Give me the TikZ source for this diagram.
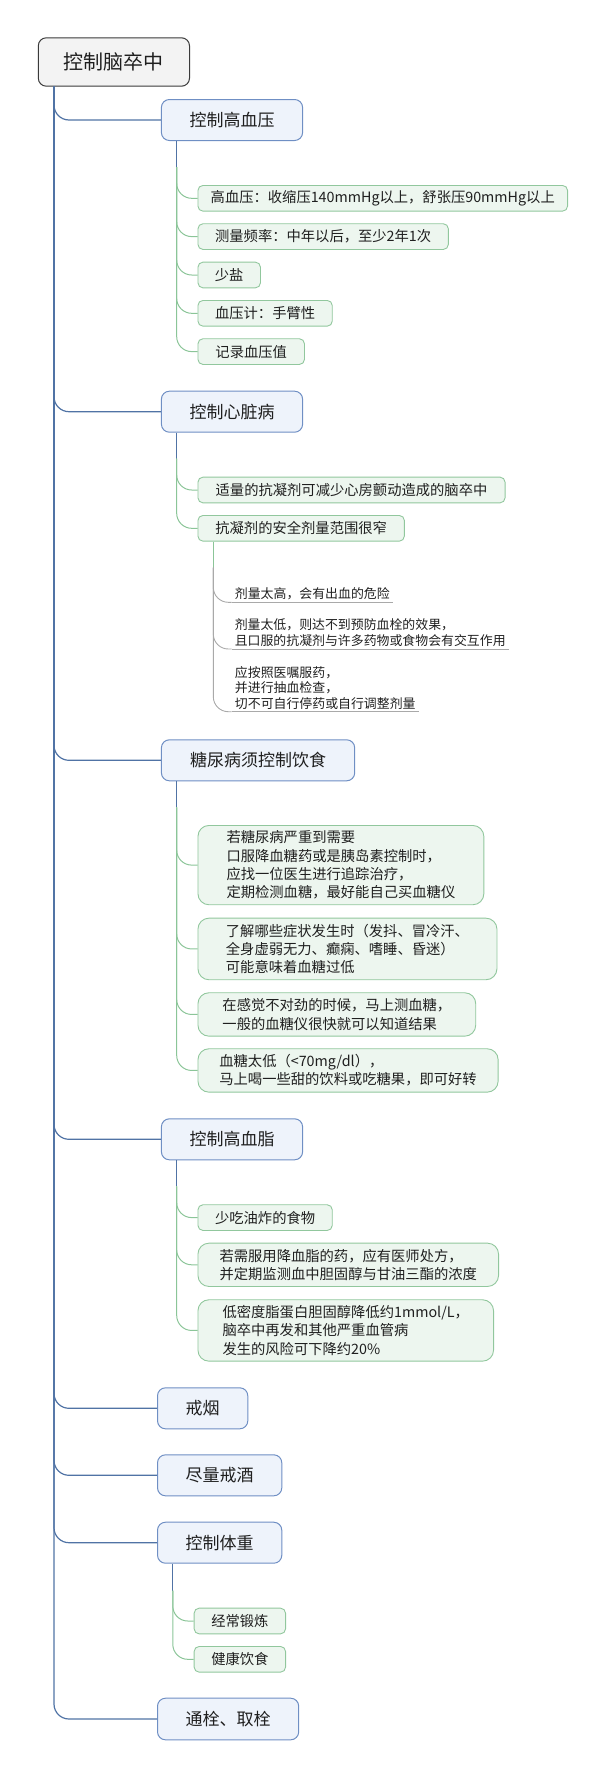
\documentclass[tikz,border=0pt]{standalone}
\usepackage{fontspec}
\setmainfont{Noto Sans CJK SC}
\definecolor{cMain}{HTML}{5073A5}
\definecolor{cBBorder}{HTML}{6F8FC4}
\definecolor{cBFill}{HTML}{EEF3FB}
\definecolor{cGBorder}{HTML}{91C79D}
\definecolor{cGFill}{HTML}{EDF6EF}
\definecolor{cGLine}{HTML}{8BC598}
\definecolor{cGray}{HTML}{A9A9A9}
\definecolor{cRootFill}{HTML}{F3F3F3}
\definecolor{cRootLine}{HTML}{3A3A3A}
\definecolor{cTxt}{HTML}{1F1F1F}
\begin{document}
\begin{tikzpicture}[x=1pt,y=-1pt,
  rootbox/.style={draw=cRootLine, fill=cRootFill, rounded corners=8pt, line width=1pt,
    minimum width=151.2pt, minimum height=48.4pt, inner sep=0pt, anchor=north west,
    font=\fontsize{20}{24}\selectfont, text=cTxt},
  branchbox/.style={draw=cBBorder, fill=cBFill, rounded corners=8pt, line width=1pt,
    minimum height=41pt, inner sep=0pt, anchor=north west,
    font=\fontsize{17}{20}\selectfont, text=cTxt},
  childbox/.style={draw=cGBorder, fill=cGFill, rounded corners=5pt, line width=0.9pt,
    minimum height=25.7pt, inner sep=0pt, anchor=north west, align=left,
    font=\fontsize{14.3}{18.3}\selectfont, text=cTxt},
  tallbox/.style={childbox, rounded corners=11pt},
  leafline/.style={inner xsep=3pt, inner ysep=2pt, anchor=south west, align=left,
    font=\fontsize{12.9}{15.7}\selectfont, text=cTxt},
  mainconn/.style={draw=cMain, line width=1.2pt, rounded corners=15pt},
  stubconn/.style={draw=cMain, line width=1pt},
  greenconn/.style={draw=cGLine, line width=1pt, rounded corners=15pt},
  graystub/.style={draw=cGLine, line width=0.9pt},
  grayconn/.style={draw=cGray, line width=0.9pt, rounded corners=15pt},
  underl/.style={draw=cGray, line width=0.9pt}
]
\useasboundingbox (0,0) rectangle (605,1777);

% root
\node[rootbox] (root) at (37.8,37.3) {控制脑卒中};

% main branches
\node[branchbox, minimum width=141.2pt] (b1) at (160.9,99) {控制高血压};
\node[branchbox, minimum width=141.2pt] (b2) at (160.9,390.7) {控制心脏病};
\node[branchbox, minimum width=193.3pt] (b3) at (160.9,739.3) {糖尿病须控制饮食};
\node[branchbox, minimum width=141.2pt] (b4) at (160.9,1118.3) {控制高血脂};
\node[branchbox, minimum width=90.3pt] (b5) at (157,1387.3) {戒烟};
\node[branchbox, minimum width=124.3pt] (b6) at (157,1454.3) {尽量戒酒};
\node[branchbox, minimum width=124.3pt] (b7) at (157,1521.7) {控制体重};
\node[branchbox, minimum width=141.2pt, minimum height=41.6pt] (b8) at (157,1697.7) {通栓、取栓};

\foreach \b in {b1,b2,b3,b4,b5,b6,b7,b8}
  \draw[mainconn] ([xshift=16.2pt]root.south west) |- (\b.west);

% children of b1
\node[childbox, minimum width=369.6pt] (h1) at (197.5,185) {高血压：收缩压140mmHg以上，舒张压90mmHg以上};
\node[childbox, minimum width=250.4pt] (h2) at (197.5,223.3) {测量频率：中年以后，至少2年1次};
\node[childbox, minimum width=62.5pt] (h3) at (197.5,261.7) {少盐};
\node[childbox, minimum width=134.3pt] (h4) at (197.5,300) {血压计：手臂性};
\node[childbox, minimum width=106.5pt] (h5) at (197.5,338.3) {记录血压值};
\draw[stubconn] ([xshift=15.8pt]b1.south west) -- ++(0,26) coordinate (b1s);
\foreach \c in {h1,h2,h3,h4,h5}
  \draw[greenconn] (b1s) |- (\c.west);

% children of b2
\node[childbox, minimum width=307.1pt] (x1) at (197.5,476.7) {适量的抗凝剂可减少心房颤动造成的脑卒中};
\node[childbox, minimum width=206.4pt] (x2) at (197.5,515) {抗凝剂的安全剂量范围很窄};
\draw[stubconn] ([xshift=15.8pt]b2.south west) -- ++(0,26) coordinate (b2s);
\foreach \c in {x1,x2}
  \draw[greenconn] (b2s) |- (\c.west);

% grandchildren of x2
\node[leafline, minimum width=161.2pt] (g1) at (231.5,602.3) {剂量太高，会有出血的危险};
\node[leafline, minimum width=277pt] (g2) at (231.5,649) {剂量太低，则达不到预防血栓的效果，\\且口服的抗凝剂与许多药物或食物会有交互作用};
\node[leafline, minimum width=187.1pt] (g3) at (231.5,711.7) {应按照医嘱服药，\\并进行抽血检查，\\切不可自行停药或自行调整剂量};
\draw[graystub] ([xshift=15.8pt]x2.south west) -- ++(0,26) coordinate (x2s);
\foreach \g in {g1,g2,g3}{
  \draw[grayconn] (x2s) |- (\g.south west);
  \draw[underl] (\g.south west) -- (\g.south east);
}

% children of b3
\node[tallbox, minimum width=285.9pt, minimum height=79.3pt] (d1) at (197.5,825) {若糖尿病严重到需要\\口服降血糖药或是胰岛素控制时，\\应找一位医生进行追踪治疗，\\定期检测血糖，最好能自己买血糖仪};
\node[tallbox, minimum width=299pt, minimum height=61.6pt] (d2) at (197.5,917.7) {了解哪些症状发生时（发抖、冒冷汗、\\全身虚弱无力、癫痫、嗜睡、昏迷）\\可能意味着血糖过低};
\node[tallbox, minimum width=277.8pt, minimum height=43.4pt] (d3) at (197.5,992.3) {在感觉不对劲的时候，马上测血糖，\\一般的血糖仪很快就可以知道结果};
\node[tallbox, minimum width=300.2pt, minimum height=43.4pt] (d4) at (197.5,1048.3) {血糖太低（<70mg/dl），\\马上喝一些甜的饮料或吃糖果，即可好转};
\draw[stubconn] ([xshift=15.8pt]b3.south west) -- ++(0,26) coordinate (b3s);
\foreach \c in {d1,d2,d3,d4}
  \draw[greenconn] (b3s) |- (\c.west);

% children of b4
\node[childbox, minimum width=134.3pt] (l1) at (197.5,1204.3) {少吃油炸的食物};
\node[tallbox, minimum width=300.6pt, minimum height=43.3pt] (l2) at (197.5,1242.7) {若需服用降血脂的药，应有医师处方，\\并定期监测血中胆固醇与甘油三酯的浓度};
\node[tallbox, minimum width=295.6pt, minimum height=61.4pt] (l3) at (197.5,1299.3) {低密度脂蛋白胆固醇降低约1mmol/L，\\脑卒中再发和其他严重血管病\\发生的风险可下降约20\%};
\draw[stubconn] ([xshift=15.8pt]b4.south west) -- ++(0,26) coordinate (b4s);
\foreach \c in {l1,l2,l3}
  \draw[greenconn] (b4s) |- (\c.west);

% children of b7
\node[childbox, minimum width=91.4pt] (w1) at (193.7,1607.7) {经常锻炼};
\node[childbox, minimum width=91.4pt] (w2) at (193.7,1646) {健康饮食};
\draw[stubconn] ([xshift=15.8pt]b7.south west) -- ++(0,27) coordinate (b7s);
\foreach \c in {w1,w2}
  \draw[greenconn] (b7s) |- (\c.west);

% redraw boxes on top of connectors
\end{tikzpicture}
\end{document}
